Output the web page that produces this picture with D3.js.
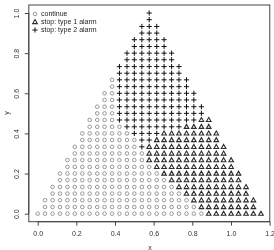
<!DOCTYPE html>
<html>
<head>
<meta charset="utf-8">
<script src="https://cdn.jsdelivr.net/npm/d3@7"></script>
<style>
  body { margin: 0; background: #fff; }
  svg { display: block; font-family: "Liberation Sans", Arial, sans-serif; will-change: transform; }
</style>
</head>
<body>
<div id="chart"></div>
<script>
// grid columns (x) and rows (y)
var colX = [0, 0.038, 0.077, 0.115, 0.154, 0.192, 0.231, 0.269, 0.308, 0.346,
            0.385, 0.423, 0.462, 0.500, 0.539, 0.577, 0.616, 0.654, 0.693, 0.731,
            0.770, 0.808, 0.847, 0.885, 0.924, 0.962, 1.001, 1.039, 1.078, 1.116, 1.155];
var rowY = [0, 0.033, 0.067, 0.100, 0.133, 0.167, 0.200, 0.233, 0.267, 0.300,
            0.333, 0.367, 0.400, 0.433, 0.467, 0.500, 0.533, 0.567, 0.600, 0.633,
            0.667, 0.700, 0.733, 0.767, 0.800, 0.833, 0.867, 0.900, 0.933, 0.967, 1.000];

// per row, bottom row first: first column used, then how many points of each kind
// follow from left to right (continue, then type 2 alarm, then type 1 alarm)
var rowStart = [0, 1, 1, 2, 2, 3, 3, 4, 4, 5, 5, 6, 6, 7, 7, 8,
                8, 9, 9, 10, 10, 11, 11, 12, 12, 13, 13, 14, 14, 15, 15];
var nContinue = [23, 21, 20, 18, 17, 15, 14, 12, 11, 10, 9, 8, 7, 5, 4, 3,
                 3, 2, 2, 1, 1, 0, 0, 0, 0, 0, 0, 0, 0, 0, 0];
var nType2 = [0, 0, 0, 0, 0, 0, 0, 0, 0, 0, 1, 2, 4, 8, 11, 12,
              12, 11, 11, 10, 10, 9, 9, 7, 7, 5, 5, 3, 3, 1, 1];
var nType1 = [8, 8, 9, 9, 10, 10, 11, 11, 12, 11, 11, 9, 8, 4, 2, 0,
              0, 0, 0, 0, 0, 0, 0, 0, 0, 0, 0, 0, 0, 0, 0];

var legendLabels = ["continue", "stop: type 1 alarm", "stop: type 2 alarm"];
var legendKinds = ["o", "t", "+"];
var xTicks = [0, 0.2, 0.4, 0.6, 0.8, 1.0, 1.2];
var yTicks = [0, 0.2, 0.4, 0.6, 0.8, 1.0];

var width = 274, height = 250;

var x = d3.scaleLinear().domain([-0.046, 1.201]).range([28.8, 269.8]);
var y = d3.scaleLinear().domain([-0.04, 1.04]).range([221.7, 5]);

var svg = d3.select("#chart").append("svg")
  .attr("width", width)
  .attr("height", height);

// build points from the row counts
var points = [];
rowY.forEach(function (yv, r) {
  var c = rowStart[r];
  var runs = [["o", nContinue[r]], ["+", nType2[r]], ["t", nType1[r]]];
  runs.forEach(function (run) {
    for (var k = 0; k < run[1]; k++) {
      points.push({x: colX[c], y: yv, kind: run[0]});
      c++;
    }
  });
});

function drawMark(g, kind) {
  if (kind === "o") {
    g.append("circle").attr("r", 1.8)
      .attr("fill", "none").attr("stroke", "#808080").attr("stroke-width", 0.8);
  } else if (kind === "t") {
    g.append("path").attr("d", "M0,-2.4L2.3,1.6H-2.3Z")
      .attr("fill", "none").attr("stroke", "#2a2a2a").attr("stroke-width", 1.1);
  } else {
    g.append("path").attr("d", "M-2.6,0H2.6M0,-2.6V2.6")
      .attr("fill", "none").attr("stroke", "#111").attr("stroke-width", 1);
  }
}

// box
svg.append("rect")
  .attr("x", x.range()[0]).attr("y", y.range()[1])
  .attr("width", x.range()[1] - x.range()[0])
  .attr("height", y.range()[0] - y.range()[1])
  .attr("fill", "none").attr("stroke", "#444").attr("stroke-width", 1);

// x axis
var xAxis = svg.append("g")
  .attr("transform", "translate(0," + y.range()[0] + ")")
  .call(d3.axisBottom(x).tickValues(xTicks).tickFormat(d3.format(".1f")).tickSize(4).tickPadding(5));
xAxis.select(".domain").attr("d", "M" + x(0) + ",0H" + x(1.2)).attr("stroke", "#444");
xAxis.selectAll(".tick line").attr("stroke", "#444");
xAxis.selectAll("text").attr("font-size", 7).attr("fill", "#333")
  .attr("font-family", "Liberation Sans, Arial, sans-serif");

// y axis
var yAxis = svg.append("g")
  .attr("transform", "translate(" + x.range()[0] + ",0)")
  .call(d3.axisLeft(y).tickValues(yTicks).tickFormat(d3.format(".1f")).tickSize(4));
yAxis.select(".domain").attr("d", "M0," + y(0) + "V" + y(1)).attr("stroke", "#444");
yAxis.selectAll(".tick line").attr("stroke", "#444");
yAxis.selectAll("text")
  .attr("font-size", 7).attr("fill", "#333")
  .attr("font-family", "Liberation Sans, Arial, sans-serif")
  .attr("x", null).attr("dy", null)
  .attr("text-anchor", "middle")
  .attr("transform", "translate(-10,0) rotate(-90)");

// axis titles
svg.append("text").attr("x", 150).attr("y", 250)
  .attr("text-anchor", "middle").attr("font-size", 7).attr("fill", "#333").text("x");
svg.append("text").attr("transform", "translate(9,113) rotate(-90)")
  .attr("text-anchor", "middle").attr("font-size", 7).attr("fill", "#333").text("y");

// points
svg.append("g").selectAll("g")
  .data(points).enter()
  .append("g")
    .attr("transform", function (d) { return "translate(" + x(d.x) + "," + y(d.y) + ")"; })
    .each(function (d) { drawMark(d3.select(this), d.kind); });

// legend
var leg = svg.append("g").selectAll("g")
  .data(legendLabels).enter()
  .append("g")
    .attr("transform", function (d, i) { return "translate(35," + (14 + i * 8) + ")"; });
leg.each(function (d, i) { drawMark(d3.select(this), legendKinds[i]); });
leg.append("text")
  .attr("x", 6).attr("dy", "0.35em")
  .attr("font-size", 7).attr("fill", "#222")
  .text(function (d) { return d; });
</script>
</body>
</html>
